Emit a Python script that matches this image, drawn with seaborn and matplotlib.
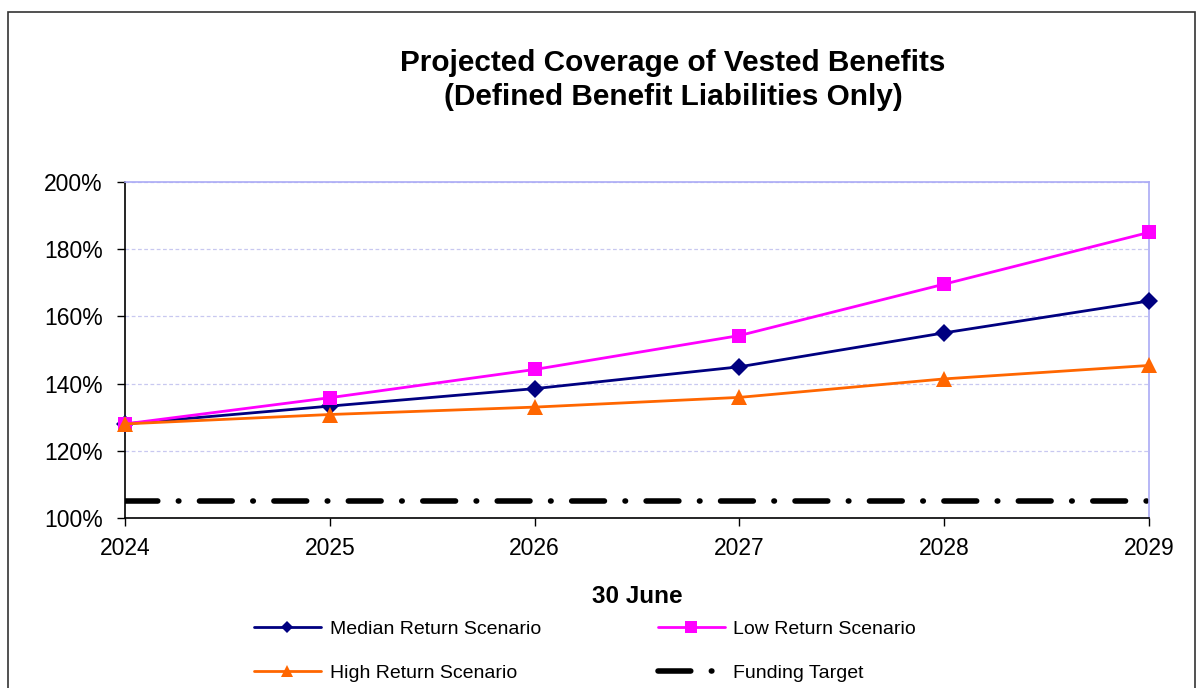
import matplotlib
matplotlib.use("Agg")
import matplotlib.pyplot as plt
import matplotlib.ticker as mticker
from matplotlib.patches import Rectangle
import seaborn as sns
import pandas as pd

years = [2024, 2025, 2026, 2027, 2028, 2029]
median_return = [128.0, 133.3, 138.5, 145.0, 155.1, 164.6]
low_return = [128.0, 135.8, 144.2, 154.3, 169.6, 185.0]
high_return = [128.0, 130.8, 133.0, 135.9, 141.4, 145.4]
funding_target = [105.0] * len(years)

series_names = ["Median Return Scenario", "Low Return Scenario",
                "High Return Scenario", "Funding Target"]

df = pd.DataFrame({
    "year": years * 4,
    "value": median_return + low_return + high_return + funding_target,
    "series": sum([[n] * len(years) for n in series_names], []),
})

sns.set_theme(style="white")
plt.rcParams["font.family"] = ["Liberation Sans", "DejaVu Sans"]
plt.rcParams.update({"text.color": "black", "axes.labelcolor": "black",
                     "xtick.color": "black", "ytick.color": "black"})

W, H = 1197, 688
fig = plt.figure(figsize=(W / 100, H / 100), dpi=100)
ax = fig.add_axes([125 / W, 1 - 518 / H, (1149 - 125) / W, (518 - 182) / H])

palette = {
    "Median Return Scenario": "#000080",
    "Low Return Scenario": "#FF00FF",
    "High Return Scenario": "#FF6600",
    "Funding Target": "#000000",
}
markers = {"Median Return Scenario": "D", "Low Return Scenario": "s",
           "High Return Scenario": "^"}
sizes = {"Median Return Scenario": 9, "Low Return Scenario": 9.5,
         "High Return Scenario": 11}

for name in series_names[:3]:
    sub = df[df.series == name]
    sns.lineplot(data=sub, x="year", y="value", ax=ax, color=palette[name],
                 marker=markers[name], markersize=sizes[name], markeredgewidth=0,
                 linewidth=2, label=name, zorder=3, clip_on=False)

sub = df[df.series == "Funding Target"]
sns.lineplot(data=sub, x="year", y="value", ax=ax, color="black",
             linewidth=4, label="Funding Target", zorder=2)
target_line = ax.lines[-1]
target_line.set_dashes([5.9, 3.7, 0.1, 3.7])
target_line.set_dash_capstyle("round")

ax.set_xlim(2024, 2029)
ax.set_ylim(100, 200)
ax.set_xticks(years)
ax.set_yticks(range(100, 201, 20))
ax.yaxis.set_major_formatter(mticker.FuncFormatter(lambda v, p: f"{v:.0f}%"))
ax.tick_params(axis="both", which="major", labelsize=16.5, length=6, width=1,
               color="black", direction="out", bottom=True, left=True)
ax.tick_params(axis="y", pad=10)
ax.tick_params(axis="x", pad=8)
ax.grid(axis="y", color="#C8C8F0", linestyle=(0, (3, 2)), linewidth=0.9)
ax.grid(axis="x", visible=False)

for side in ["top", "right"]:
    ax.spines[side].set_color("#AAAAF5")
    ax.spines[side].set_linewidth(1.2)
for side in ["left", "bottom"]:
    ax.spines[side].set_color("black")
    ax.spines[side].set_linewidth(1.2)

ax.set_xlabel("30 June", fontsize=17.5, fontweight="bold")
ax.xaxis.set_label_coords(0.5, (518 - 585) / 336)
ax.set_ylabel("")

fig.text(673 / W, 1 - 80 / H,
         "Projected Coverage of Vested Benefits\n(Defined Benefit Liabilities Only)",
         ha="center", va="center", fontsize=21.4, fontweight="bold",
         linespacing=1.24)

handles, labels = ax.get_legend_handles_labels()
if ax.legend_:
    ax.legend_.remove()
order = [0, 2, 1, 3]
leg = fig.legend([handles[i] for i in order], [labels[i] for i in order],
                 ncol=2, loc="center", bbox_to_anchor=(585 / W, 1 - 651 / H),
                 frameon=False, fontsize=14, handlelength=3.45,
                 columnspacing=6.0, labelspacing=1.35, handletextpad=0.45)
for h in leg.legend_handles:
    m = h.get_marker()
    if m == "D":
        h.set_markersize(6)
    elif m == "s":
        h.set_markersize(8)
    elif m == "^":
        h.set_markersize(9)

fig.patches.append(Rectangle((8 / W, -0.1), (1195 - 8) / W, 1.1 - 12 / H,
                             transform=fig.transFigure, fill=False,
                             edgecolor="#333333", linewidth=1.2))

fig.savefig("out.png", dpi=100)
